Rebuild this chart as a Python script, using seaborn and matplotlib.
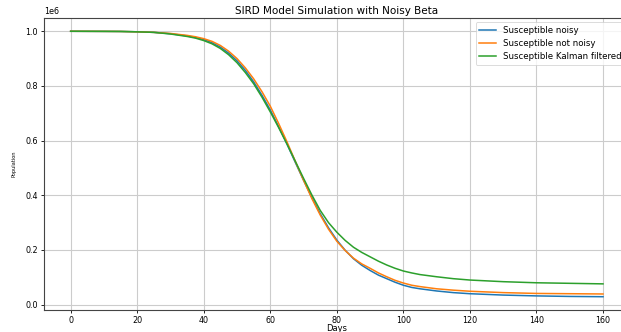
import numpy as np
import pandas as pd
import matplotlib
matplotlib.use("Agg")
import matplotlib.pyplot as plt
import seaborn as sns

# Values (population in units of 1e6)
days = [0, 5, 10, 15, 20, 25, 30, 35, 37.5, 40, 42.5, 45, 47.5, 50, 52.5, 55, 57.5,
        60, 62.5, 65, 67.5, 70, 72.5, 75, 77.5, 80, 82.5, 85, 87.5, 90, 92.5, 95,
        97.5, 100, 102.5, 105, 110, 115, 120, 130, 140, 150, 160]
s_noisy = [1.0, 0.9998, 0.9996, 0.9993, 0.998, 0.996, 0.991, 0.983, 0.977, 0.970,
           0.958, 0.942, 0.920, 0.892, 0.857, 0.815, 0.766, 0.712, 0.651, 0.588,
           0.521, 0.455, 0.392, 0.333, 0.281, 0.236, 0.199, 0.168, 0.144, 0.125,
           0.108, 0.095, 0.082, 0.071, 0.063, 0.058, 0.050, 0.044, 0.040, 0.035,
           0.032, 0.030, 0.029]
s_clean = [1.0, 0.9998, 0.9996, 0.9993, 0.998, 0.996, 0.992, 0.985, 0.980, 0.973,
           0.963, 0.948, 0.927, 0.900, 0.866, 0.826, 0.779, 0.726, 0.663, 0.596,
           0.525, 0.455, 0.388, 0.328, 0.276, 0.232, 0.198, 0.170, 0.149, 0.133,
           0.116, 0.102, 0.089, 0.079, 0.071, 0.066, 0.058, 0.053, 0.049, 0.044,
           0.041, 0.040, 0.039]
s_kalman = [1.0, 0.9998, 0.9996, 0.9993, 0.998, 0.996, 0.990, 0.981, 0.975, 0.966,
            0.954, 0.937, 0.914, 0.885, 0.849, 0.808, 0.759, 0.705, 0.648, 0.588,
            0.525, 0.462, 0.401, 0.345, 0.300, 0.265, 0.235, 0.210, 0.191, 0.175,
            0.159, 0.145, 0.133, 0.123, 0.116, 0.110, 0.102, 0.095, 0.090, 0.084,
            0.080, 0.078, 0.076]
labels = ["Susceptible noisy", "Susceptible not noisy", "Susceptible Kalman filtered"]

frames = []
for lab, vals in zip(labels, [s_noisy, s_clean, s_kalman]):
    frames.append(pd.DataFrame({"Days": days, "Population": np.array(vals) * 1e6, "series": lab}))
df = pd.concat(frames, ignore_index=True)

fig = plt.figure(figsize=(6.21, 3.32), dpi=100)
# axes run slightly past the right edge, like the cropped original
ax = fig.add_axes([0.0709, 0.0663, 0.943, 0.8795])

sns.lineplot(data=df, x="Days", y="Population", hue="series",
             palette=["#1f77b4", "#ff7f0e", "#2ca02c"], linewidth=1.1, ax=ax)

ax.set_xticks([0, 20, 40, 60, 80, 100, 120, 140, 160])
ax.set_title("SIRD Model Simulation with Noisy Beta", fontsize=7.5, pad=3)
ax.set_xlabel("Days", fontsize=6, labelpad=-1)
ax.set_ylabel("Population", fontsize=3.6, labelpad=6)
ax.tick_params(labelsize=5.8, length=2.5, width=0.6, pad=2)
ax.yaxis.get_offset_text().set_fontsize(5.8)
ax.grid(True, color="#cccccc", linewidth=0.8)
for sp in ax.spines.values():
    sp.set_linewidth(0.8)
    sp.set_color("#444444")

leg = ax.legend(loc="upper right", fontsize=6.2, frameon=True, borderaxespad=0.5)
leg.get_frame().set_linewidth(0.6)

fig.savefig("out.png", dpi=100)
